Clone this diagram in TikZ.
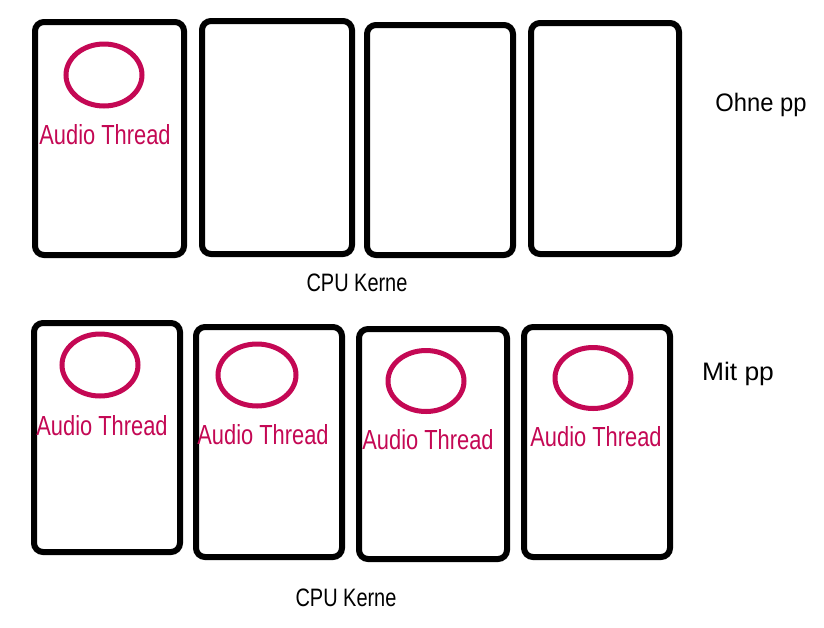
\documentclass[tikz,border=0pt]{standalone}
\usepackage{fontspec}
\setmainfont{Liberation Sans}
\usetikzlibrary{shapes.geometric}
\definecolor{pinkred}{RGB}{196,8,84}
\tikzset{
  core/.style={draw=black, line width=6pt, rounded corners=9pt, fill=white, inner sep=0pt},
  thread/.style={draw=pinkred, line width=5pt, ellipse, inner sep=0pt},
  atlabel/.style={text=pinkred, font=\fontsize{23}{23}\selectfont, inner sep=0pt},
  caption/.style={text=black, font=\fontsize{21}{21}\selectfont, inner sep=0pt},
  sidelabel/.style={text=black, font=\fontsize{22}{22}\selectfont, inner sep=0pt}
}
\newcommand{\narrow}[1]{\scalebox{0.95}[1.2]{#1}}
\newcommand{\wideish}[2]{\scalebox{#1}[1.15]{#2}}
\begin{document}
\begin{tikzpicture}[x=1pt,y=-1pt]
\useasboundingbox[fill=white] (0,0) rectangle (824,627);
% top row
\node[core, minimum width=149pt, minimum height=233pt] (t1) at (109.5,138.5) {};
\node[core, minimum width=150pt, minimum height=233pt] (t2) at (277,137.5) {};
\node[core, minimum width=146pt, minimum height=230pt] (t3) at (440,140) {};
\node[core, minimum width=148pt, minimum height=231pt] (t4) at (605,138.5) {};
\node[thread, minimum width=76pt, minimum height=62pt] (te1) at (104,75) {};
\node[atlabel] (tl1) at (105,135) {\narrow{Audio Thread}};
\node[caption] (tcpu) at (357,283) {\narrow{CPU Kerne}};
\node[sidelabel] (ohne) at (761,105) {\wideish{1.08}{Ohne pp}};
% bottom row
\node[core, minimum width=146pt, minimum height=229pt] (b1) at (107,437.5) {};
\node[core, minimum width=146pt, minimum height=230pt] (b2) at (269,442) {};
\node[core, minimum width=148pt, minimum height=230pt] (b3) at (433,444) {};
\node[core, minimum width=146pt, minimum height=230pt] (b4) at (597,442) {};
\node[thread, minimum width=76pt, minimum height=62pt] (be1) at (100,365) {};
\node[thread, minimum width=78pt, minimum height=62pt] (be2) at (257,375) {};
\node[thread, minimum width=76pt, minimum height=61pt] (be3) at (426,381) {};
\node[thread, minimum width=76pt, minimum height=61pt] (be4) at (593,378) {};
\node[atlabel] (bl1) at (102,426) {\narrow{Audio Thread}};
\node[atlabel] (bl2) at (263,435) {\narrow{Audio Thread}};
\node[atlabel] (bl3) at (428,440) {\narrow{Audio Thread}};
\node[atlabel] (bl4) at (596,437) {\narrow{Audio Thread}};
\node[caption] (bcpu) at (346,598) {\narrow{CPU Kerne}};
\node[sidelabel] (mit) at (738,374) {\wideish{1.2}{Mit pp}};
\end{tikzpicture}
\end{document}
